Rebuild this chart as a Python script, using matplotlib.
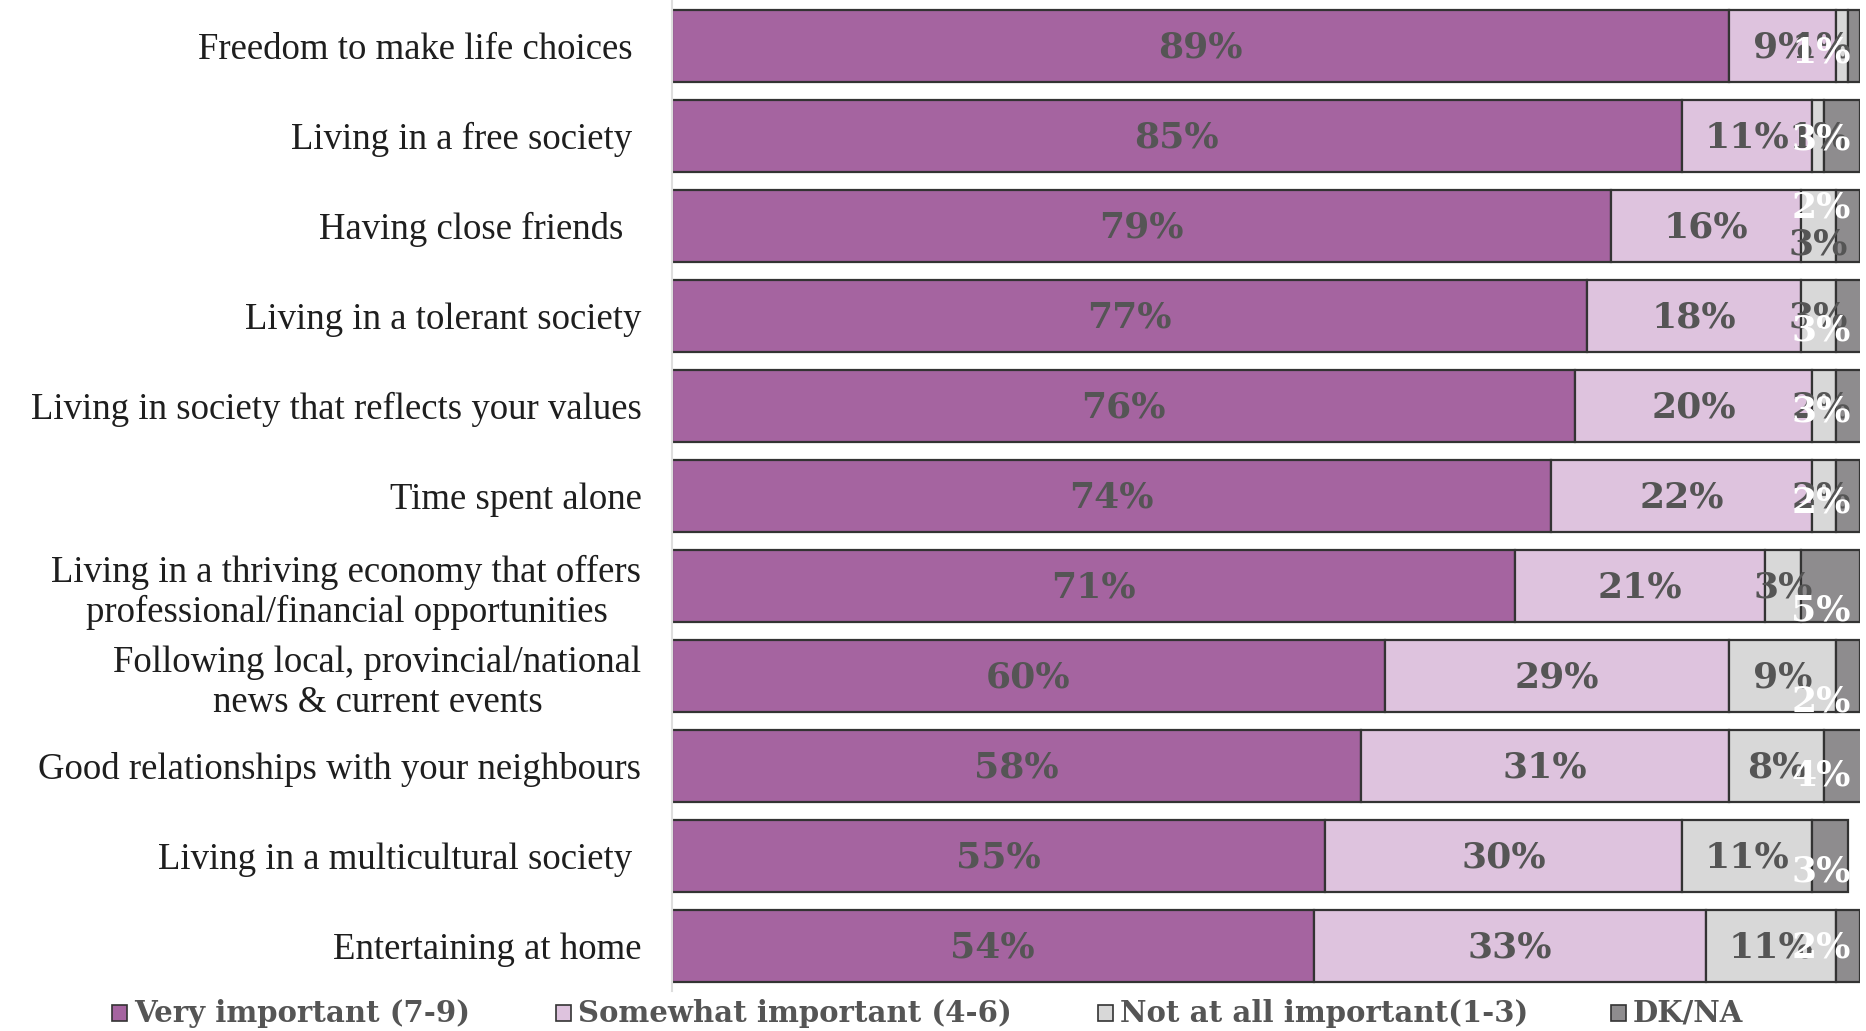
import matplotlib
matplotlib.use("Agg")
import matplotlib.pyplot as plt
from matplotlib.patches import Rectangle
from matplotlib.transforms import offset_copy
import numpy as np

categories = [
    "Freedom to make life choices ",
    "Living in a free society ",
    "Having close friends  ",
    "Living in a tolerant society",
    "Living in society that reflects your values",
    "Time spent alone",
    "Living in a thriving economy that offers\nprofessional/financial opportunities",
    "Following local, provincial/national\nnews & current events",
    "Good relationships with your neighbours",
    "Living in a multicultural society ",
    "Entertaining at home",
]
very_important = [89, 85, 79, 77, 76, 74, 71, 60, 58, 55, 54]
somewhat_important = [9, 11, 16, 18, 20, 22, 21, 29, 31, 30, 33]
not_important = [1, 1, 3, 3, 2, 2, 3, 9, 8, 11, 11]
dk_na = [1, 3, 2, 3, 3, 2, 5, 2, 4, 3, 2]

series_names = ["Very important (7-9)", "Somewhat important (4-6)",
                "Not at all important(1-3)", "DK/NA"]
series_colors = ["#A564A0", "#DEC3DE", "#D8D8D8", "#8E8C8E"]
label_colors = ["#555555", "#555555", "#555555", "#FFFFFF"]

# vertical nudges (pixels, positive = down) for the small-segment labels
nudge_not = [0, 0, 17, 0, 0, 0, 0, 0, 0, 0, 0]
nudge_dk = [5, 2, -20, 13, 4, 5, 23, 24, 8, 14, 0]

W, H = 1866, 1031
fig = plt.figure(figsize=(W / 100, H / 100), dpi=100)
fig.patch.set_facecolor("white")
ax = fig.add_axes([672 / W, 1 - 991 / H, (1860 - 672) / W, 990.5 / H])

series = [very_important, somewhat_important, not_important, dk_na]
y = np.arange(len(categories))
left = np.zeros(len(categories))
for vals, col in zip(series, series_colors):
    ax.barh(y, vals, left=left, height=0.8, color=col,
            edgecolor="#333333", linewidth=1.6, zorder=2)
    left = left + np.array(vals)

ax.set_xlim(0, 100)
ax.set_ylim(len(categories) - 0.5, -0.5)
ax.set_xticks([])
ax.set_yticks(y)
ax.set_yticklabels(categories, fontsize=26.5, family="Liberation Serif",
                   color="#1E1E1E", multialignment="center", linespacing=1.2)
ax.tick_params(axis="y", length=0, pad=22)
for s in ["top", "right", "bottom"]:
    ax.spines[s].set_visible(False)
ax.spines["left"].set_color("#DDDDDD")
ax.spines["left"].set_linewidth(1.5)

fig.canvas.draw()
renderer = fig.canvas.get_renderer()
limit_px = 1851  # right edge limit for labels in figure pixels
lab_font = dict(family="DejaVu Serif", fontweight="bold", fontsize=26)

for si, vals in enumerate(series):
    starts = np.zeros(len(categories))
    for k in range(si):
        starts = starts + np.array(series[k])
    for i, v in enumerate(vals):
        cx = starts[i] + v / 2
        dy = 0
        if si == 2:
            dy = nudge_not[i]
        elif si == 3:
            dy = nudge_dk[i]
        t = ax.text(cx, i, f"{v}%", ha="center", va="center",
                    color=label_colors[si], zorder=5 + si, **lab_font)
        t.set_transform(offset_copy(ax.transData, fig=fig, x=0, y=-dy - 2, units="dots"))
        bb = t.get_window_extent(renderer)
        if bb.x1 > limit_px:
            shift = bb.x1 - limit_px
            px = ax.transData.transform((cx, i))[0] - shift
            t.set_x(ax.transData.inverted().transform((px, 0))[0])

# legend
leg_font = dict(family="DejaVu Serif", fontweight="bold", fontsize=21, color="#555555")
sq_x = [112, 556, 1098, 1611]
yc = 1013
for name, col, sx in zip(series_names, series_colors, sq_x):
    fig.patches.append(Rectangle((sx / W, 1 - (yc + 8) / H), 15 / W, 16 / H,
                                 transform=fig.transFigure, facecolor=col,
                                 edgecolor="#333333", linewidth=1.2))
    fig.text((sx + 22) / W, 1 - yc / H, name, ha="left", va="center", **leg_font)

fig.savefig("out.png", dpi=100)
